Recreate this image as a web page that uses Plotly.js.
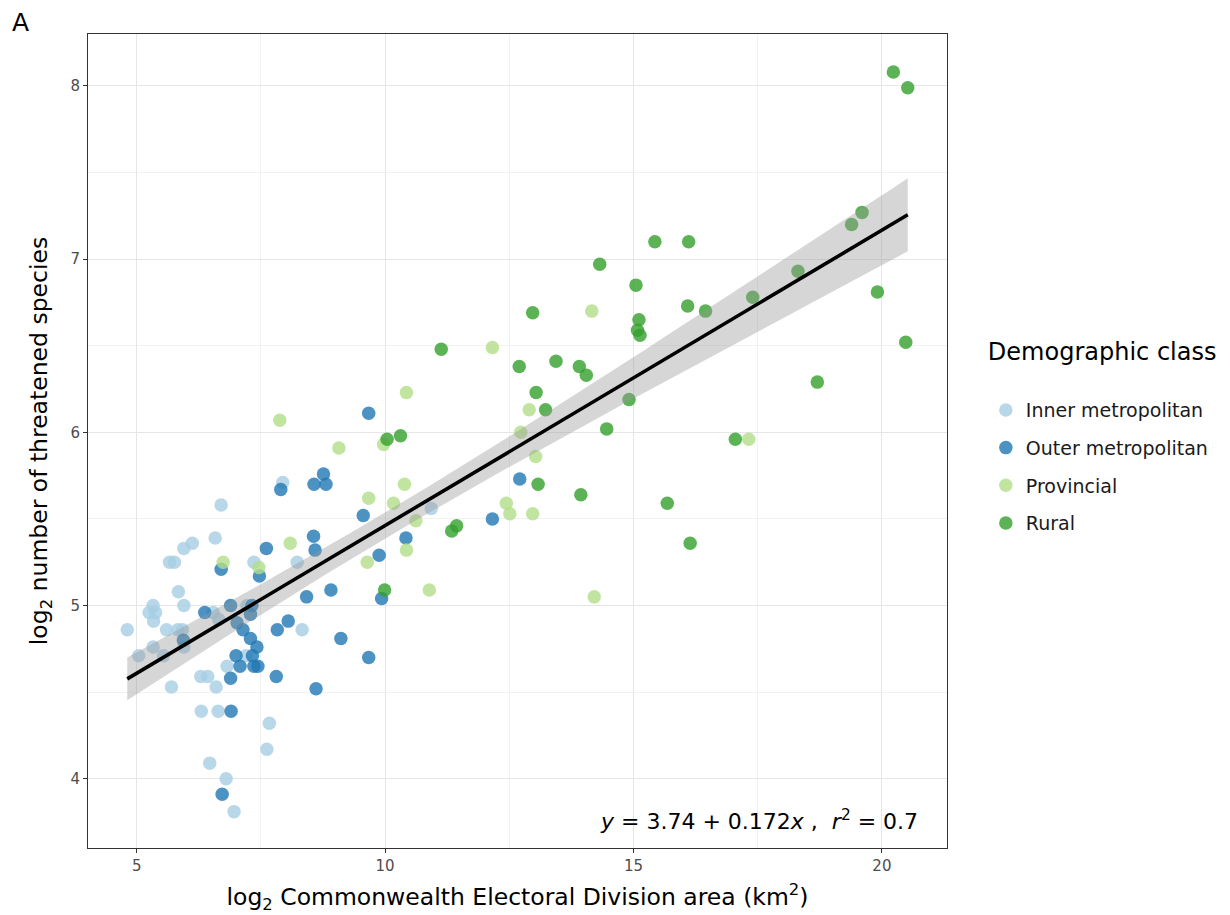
<!DOCTYPE html>
<html>
<head>
<meta charset="utf-8">
<script src="https://cdn.plot.ly/plotly-3.0.1.min.js"></script>
<style>html,body{margin:0;padding:0;background:#fff;}#chart{width:1230px;height:915px;}</style>
</head>
<body>
<div id="chart"></div>
<script>
// ---- Data (log2 area, log2 threatened species) ----
const innerX = [4.81,5.04,5.25,5.34,5.38,5.33,5.33,5.54,5.60,5.66,5.76,5.70,5.83,5.84,5.92,5.95,5.95,5.95,6.12,6.29,6.43,6.30,6.47,6.54,6.58,6.60,6.64,6.65,6.70,6.80,6.82,6.96,7.20,7.22,7.36,7.62,7.67,7.94,8.23,8.33,10.93];
const innerY = [4.86,4.71,4.96,4.91,4.96,5.00,4.76,4.71,4.86,5.25,5.25,4.53,4.86,5.08,4.86,5.00,4.76,5.33,5.36,4.59,4.59,4.39,4.09,4.96,5.39,4.53,4.39,4.92,5.58,4.00,4.65,3.81,4.71,5.00,5.25,4.17,4.32,5.71,5.25,4.86,5.56];

const outerX = [5.94,6.37,6.70,6.72,6.89,6.89,6.90,7.00,7.02,7.08,7.14,7.29,7.29,7.32,7.33,7.36,7.44,7.42,7.47,7.61,7.81,7.83,7.90,8.05,8.42,8.56,8.59,8.57,8.76,8.81,8.91,9.11,8.61,9.56,9.67,9.67,9.88,9.93,10.42,12.16,12.71];
const outerY = [4.80,4.96,5.21,3.91,5.00,4.58,4.39,4.71,4.90,4.65,4.86,4.81,4.95,5.00,4.71,4.65,4.65,4.76,5.17,5.33,4.59,4.86,5.67,4.91,5.05,5.40,5.32,5.70,5.76,5.70,5.09,4.81,4.52,5.52,6.11,4.70,5.29,5.04,5.39,5.50,5.73];

const provX = [6.74,7.46,7.88,8.09,9.07,9.64,9.67,9.97,10.17,10.39,10.43,10.43,10.62,10.89,12.16,12.44,12.51,12.73,12.90,12.97,13.03,14.16,14.21,17.32];
const provY = [5.25,5.22,6.07,5.36,5.91,5.25,5.62,5.93,5.59,5.70,5.32,6.23,5.49,5.09,6.49,5.59,5.53,6.00,6.13,5.53,5.86,6.70,5.05,5.96];

const ruralX = [9.99,10.04,10.31,11.13,11.34,11.44,12.70,12.97,13.04,13.08,13.23,13.44,13.91,13.94,14.05,14.32,14.46,14.91,15.05,15.11,15.08,15.13,15.43,15.68,16.09,16.11,16.14,16.45,17.05,17.40,18.31,18.70,19.39,19.60,19.91,20.23,20.48,20.52];
const ruralY = [5.09,5.96,5.98,6.48,5.43,5.46,6.38,6.69,6.23,5.70,6.13,6.41,6.38,5.64,6.33,6.97,6.02,6.19,6.85,6.65,6.59,6.56,7.10,5.59,6.73,7.10,5.36,6.70,5.96,6.78,6.93,6.29,7.20,7.27,6.81,8.08,6.52,7.99];

const classNames = ["Inner metropolitan","Outer metropolitan","Provincial","Rural"];
const classColors = ["#A6CEE3","#1F78B4","#B2DF8A","#33A02C"];
const eqText = "<i>y</i> = 3.74 + 0.172<i>x</i> ,  <i>r</i><sup>2</sup> = 0.7";

// ---- Linear fit with 95% confidence band ----
const allX = innerX.concat(outerX, provX, ruralX);
const allY = innerY.concat(outerY, provY, ruralY);
const n = allX.length;
const mx = allX.reduce((a,b)=>a+b,0)/n;
const my = allY.reduce((a,b)=>a+b,0)/n;
let sxx=0, sxy=0;
for (let i=0;i<n;i++){ sxx+=(allX[i]-mx)**2; sxy+=(allX[i]-mx)*(allY[i]-my); }
const b1 = sxy/sxx, b0 = my - b1*mx;
let sse=0;
for (let i=0;i<n;i++){ sse += (allY[i]-(b0+b1*allX[i]))**2; }
const s = Math.sqrt(sse/(n-2));
const tcrit = 1.977;
const xmin = Math.min(...allX), xmax = Math.max(...allX);
const fx=[], fy=[], lo=[], hi=[];
for (let k=0;k<=80;k++){
  const x = xmin + (xmax-xmin)*k/80;
  const yhat = b0 + b1*x;
  const se = s*Math.sqrt(1/n + (x-mx)**2/sxx);
  fx.push(x); fy.push(yhat); lo.push(yhat - tcrit*se); hi.push(yhat + tcrit*se);
}

const xs=[innerX,outerX,provX,ruralX], ys=[innerY,outerY,provY,ruralY];
const traces = classNames.map((nm,i)=>({
  type:'scatter', mode:'markers', name:nm, x:xs[i], y:ys[i], legendgroup:'g'+i,
  marker:{color:classColors[i], size:13.5, opacity:0.8, line:{width:0}},
  hoverinfo:'x+y+name'
}));
traces.push({type:'scatter', mode:'lines', x:fx.concat(fx.slice().reverse()), y:hi.concat(lo.slice().reverse()),
  fill:'toself', fillcolor:'rgba(153,153,153,0.4)', line:{width:0}, showlegend:false, hoverinfo:'skip'});
traces.push({type:'scatter', mode:'lines', x:fx, y:fy, line:{color:'#000', width:3.6}, showlegend:false, hoverinfo:'skip'});

const font = "DejaVu Sans, sans-serif";
const layout = {
  width:1230, height:915,
  margin:{l:88, r:282, t:34, b:67},
  paper_bgcolor:'#fff', plot_bgcolor:'#fff',
  font:{family:font, color:'#000'},
  xaxis:{range:[4.02,21.31], tickvals:[5,10,15,20], ticks:'outside', ticklen:4, tickcolor:'#333', tickwidth:1.1,
    tickfont:{size:15, color:'#4d4d4d'}, showline:true, mirror:true, linecolor:'#333', linewidth:1.1,
    showgrid:true, gridcolor:'#e6e6e6', gridwidth:1.4, zeroline:false,
    minor:{tickvals:[7.5,12.5,17.5], showgrid:true, gridcolor:'#f2f2f2', gridwidth:0.8, ticks:''},
    title:{text:'log<sub>2</sub> Commonwealth Electoral Division area (km<sup>2</sup>)', font:{size:23.5, color:'#000'}, standoff:14}},
  yaxis:{range:[3.60,8.30], tickvals:[4,5,6,7,8], ticks:'outside', ticklen:4, tickcolor:'#333', tickwidth:1.1,
    tickfont:{size:15, color:'#4d4d4d'}, showline:true, mirror:true, linecolor:'#333', linewidth:1.1,
    showgrid:true, gridcolor:'#e6e6e6', gridwidth:1.4, zeroline:false,
    minor:{tickvals:[4.5,5.5,6.5,7.5], showgrid:true, gridcolor:'#f2f2f2', gridwidth:0.8, ticks:''},
    title:{text:'log<sub>2</sub> number of threatened species', font:{size:23.5, color:'#000'}, standoff:16}},
  legend:{x:1.044, xanchor:'left', y:0.638, yanchor:'top', bgcolor:'rgba(0,0,0,0)',
    title:{text:'Demographic class<br><span style="font-size:6px"> </span>', font:{size:24, color:'#000'}},
    font:{size:19, color:'#1a1a1a'}, itemsizing:'trace', tracegroupgap:10},
  annotations:[
    {xref:'paper', yref:'paper', x:0.968, y:0.015, xanchor:'right', yanchor:'bottom', showarrow:false,
     text:eqText, font:{size:22, color:'#000'}},
    {xref:'paper', yref:'paper', x:-0.0907, y:1.035, xanchor:'left', yanchor:'top', showarrow:false,
     text:'A', font:{size:25, color:'#000'}}
  ],
  showlegend:true
};
Plotly.newPlot('chart', traces, layout, {displayModeBar:false, responsive:false});
</script>
</body>
</html>
